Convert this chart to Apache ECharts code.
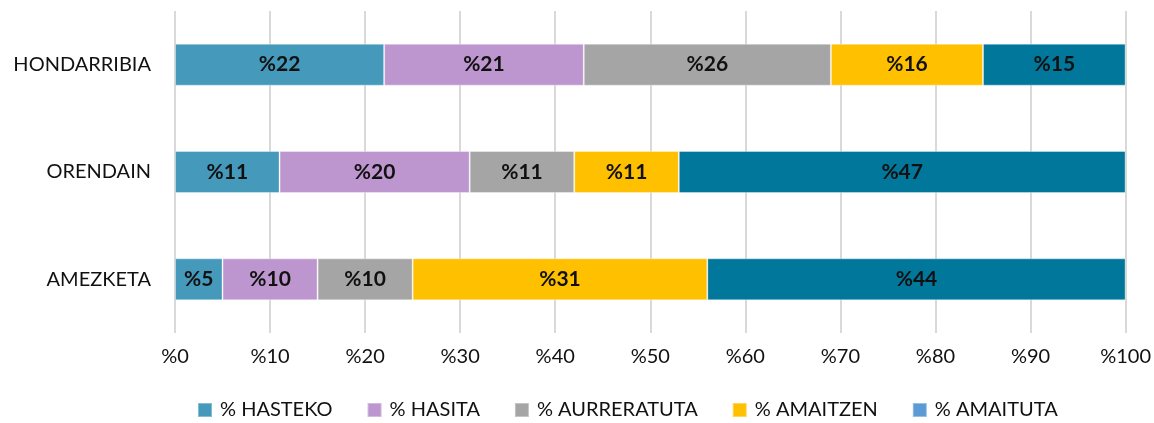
<!DOCTYPE html>
<html>
<head>
<meta charset="utf-8">
<script src="https://cdn.jsdelivr.net/npm/echarts@6/dist/echarts.min.js"></script>
<style>
html, body { margin: 0; padding: 0; background: #fff; }
#chart { width: 1154px; height: 423px; }
</style>
</head>
<body>
<div id="chart"></div>
<script>
const categories = ['HONDARRIBIA', 'ORENDAIN', 'AMEZKETA']
const seriesNames = ['% HASTEKO', '% HASITA', '% AURRERATUTA', '% AMAITZEN', '% AMAITUTA']
const hasteko = [22, 11, 5]
const hasita = [21, 20, 10]
const aurreratuta = [26, 11, 10]
const amaitzen = [16, 11, 31]
const amaituta = [15, 47, 44]

const values = [hasteko, hasita, aurreratuta, amaitzen, amaituta]
const barColors = ['#4599BB', '#BE96CF', '#A5A5A5', '#FFC000', '#00779B']
const legendColors = ['#4599BB', '#BE96CF', '#A5A5A5', '#FFC000', '#5B9BD5']
const font = 'Lato, "Open Sans", sans-serif'

const myChart = echarts.init(document.getElementById('chart'), null, { renderer: 'canvas' })

let option = {
	animation: false,
	textStyle: { fontFamily: font },
	grid: { left: 175, right: 28, top: 11, bottom: 90, containLabel: false },
	legend: {
		bottom: -2,
		left: 192,
		itemWidth: 14,
		itemHeight: 14,
		itemGap: 34,
		icon: 'rect',
		textStyle: { fontSize: 20, color: '#111', fontFamily: font, padding: [0, 0, 0, 3] },
		data: seriesNames.map((n, i) => ({ name: n, itemStyle: { color: legendColors[i] } })),
	},
	xAxis: {
		type: 'value',
		min: 0,
		max: 100,
		interval: 10,
		axisLine: { show: false },
		axisTick: { show: false },
		splitLine: { show: true, lineStyle: { color: '#D9D9D9', width: 2 } },
		axisLabel: {
			formatter: (v) => '%' + v,
			fontSize: 20,
			color: '#111',
			margin: 14,
		},
	},
	yAxis: {
		type: 'category',
		inverse: true,
		data: categories,
		axisLine: { show: false },
		axisTick: { show: false },
		axisLabel: { fontSize: 20, color: '#111', margin: 24 },
	},
	series: seriesNames.map((n, i) => ({
		name: n,
		type: 'bar',
		stack: 'total',
		barWidth: 42,
		data: values[i],
		itemStyle: { color: barColors[i], borderColor: 'rgba(255,255,255,0.35)', borderWidth: 1 },
		label: {
			show: true,
			position: 'inside',
			formatter: (p) => '%' + p.value,
			fontSize: 21,
			fontWeight: 'bold',
			color: '#111',
			fontFamily: font,
		},
	})),
}
myChart.setOption(option)

window.addEventListener('resize', () => {
	myChart.resize()
})
</script>
</body>
</html>
